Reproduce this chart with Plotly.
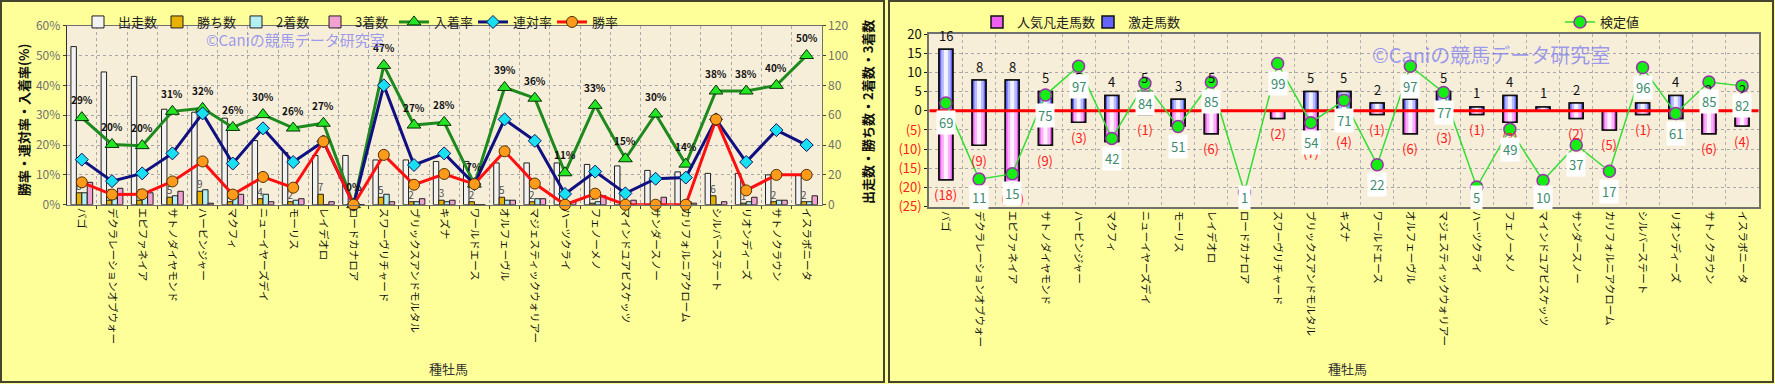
import plotly.graph_objects as go

# ---------------- data ----------------
cats = ["バゴ", "デクラレーションオブウォー", "エピファネイア", "サトノダイヤモンド", "ハービンジャー",
        "マクフィ", "ニューイヤーズデイ", "モーリス", "レイデオロ", "ロードカナロア",
        "スワーヴリチャード", "ブリックスアンドモルタル", "キズナ", "ワールドエース", "オルフェーヴル",
        "マジェスティックウォリアー", "ハーツクライ", "フェノーメノ", "マインドユアビスケッツ", "サンダースノー",
        "カリフォルニアクローム", "シルバーステート", "リオンディーズ", "サトノクラウン", "イスラボニータ"]

starts = [106, 89, 86, 64, 62, 58, 43, 35, 33, 33, 30, 30, 29, 29, 28, 28, 28, 27, 26, 23, 22, 21, 21, 20, 20]
wins = [8, 3, 3, 5, 9, 2, 4, 2, 7, 0, 5, 2, 3, 2, 5, 2, 0, 1, 0, 0, 0, 6, 1, 2, 2]
seconds = [8, 4, 6, 6, 10, 6, 7, 3, 0, 0, 7, 2, 2, 0, 3, 4, 1, 2, 1, 2, 2, 0, 2, 3, 2]
thirds = [15, 11, 8, 9, 1, 7, 2, 4, 2, 0, 2, 4, 3, 0, 3, 4, 2, 6, 3, 5, 1, 2, 5, 3, 6]

place_rate = [29.2, 20.2, 19.8, 31.3, 32.3, 25.9, 30.2, 25.7, 27.3, 0, 46.7, 26.7, 27.6, 6.9, 39.3,
              35.7, 10.7, 33.3, 15.4, 30.4, 13.6, 38.1, 38.1, 40.0, 50.0]
quinella_rate = [15.1, 7.9, 10.5, 17.2, 30.6, 13.8, 25.6, 14.3, 21.2, 0, 40.0, 13.3, 17.2, 6.9, 28.6,
                 21.4, 3.6, 11.1, 3.8, 8.7, 9.1, 28.6, 14.3, 25.0, 20.0]
win_rate = [7.5, 3.4, 3.5, 7.8, 14.5, 3.4, 9.3, 5.7, 21.2, 0, 16.7, 6.7, 10.3, 6.9, 17.9,
            7.1, 0, 3.7, 0, 0, 0, 28.6, 4.8, 10.0, 10.0]

gekiso = [16, 8, 8, 5, 5, 4, 5, 3, 5, 0, 0, 5, 5, 2, 3, 5, 1, 4, 1, 2, 0, 2, 4, 2, 2]      # 激走馬数
bonso = [18, 9, 19, 9, 3, 8, 1, 4, 6, 0, 2, 7, 4, 1, 6, 3, 1, 3, 0, 2, 5, 1, 2, 6, 4]      # 人気凡走馬数
kentei = [69, 11, 15, 75, 97, 42, 84, 51, 85, 1, 99, 54, 71, 22, 97, 77, 5, 49, 10, 37, 17, 96, 61, 85, 82]

right_ticks = [20, 15, 10, 5, 0, -5, -10, -15, -20, -25]

# ---------------- layout helpers ----------------
W, H = 1775, 384
FONT = "Noto Sans CJK JP"


def fx(px):
    return px / W


def fy(py):
    return 1 - py / H


idx = list(range(len(cats)))
bounds = [i + 0.5 for i in idx[:-1]]
xr = [idx[0] - 0.5, idx[-1] + 0.5]

fig = go.Figure()

# ---------------- left chart: bars (count axis y, right side) ----------------
bar_specs = [("出走数", starts, "#F3F3F3"), ("勝ち数", wins, "#E8B000"),
             ("2着数", seconds, "#B2F0F4"), ("3着数", thirds, "#F2A2D2")]
for name, vals, col in bar_specs:
    kw = {}
    if name == "勝ち数":
        kw = dict(text=[str(v) if v else "" for v in vals], textposition="outside",
                  constraintext="none", cliponaxis=False,
                  textfont=dict(size=10, color="#505050", family=FONT))
    fig.add_trace(go.Bar(x=idx, y=vals, name=name, xaxis="x", yaxis="y", legend="legend",
                         marker=dict(color=col, line=dict(color="#202020", width=1)), **kw))

# ---------------- left chart: lines (percent axis y2) ----------------
fig.add_trace(go.Scatter(x=idx, y=place_rate, name="入着率", mode="lines+markers", xaxis="x", yaxis="y2",
                         legend="legend", cliponaxis=False,
                         line=dict(color="#1E8A1E", width=3),
                         marker=dict(symbol="triangle-up", size=12, color="#22E622",
                                     line=dict(color="#0A300A", width=1))))
fig.add_trace(go.Scatter(x=idx, y=quinella_rate, name="連対率", mode="lines+markers", xaxis="x", yaxis="y2",
                         legend="legend", cliponaxis=False,
                         line=dict(color="#101080", width=3),
                         marker=dict(symbol="diamond", size=10, color="#19E0F0",
                                     line=dict(color="#101060", width=1))))
fig.add_trace(go.Scatter(x=idx, y=win_rate, name="勝率", mode="lines+markers", xaxis="x", yaxis="y2",
                         legend="legend", cliponaxis=False,
                         line=dict(color="#FF1010", width=3),
                         marker=dict(symbol="circle", size=11, color="#FF9A1A",
                                     line=dict(color="#503000", width=1))))

# ---------------- right chart: bars (y3) with simple horizontal gradient ----------------
neg = [-v for v in bonso]
layers = [(0.42, 1.0), (0.28, 0.0), (0.12, 0.0)]
pink_cols = ["#F060F0", "#FBB2FB", "#FFF2FF"]
blue_cols = ["#6464FF", "#B8BCFF", "#F2F3FF"]
for vals, cols, name in [(neg, pink_cols, "人気凡走馬数"), (gekiso, blue_cols, "激走馬数")]:
    for k, (wdt, lw) in enumerate(layers):
        fig.add_trace(go.Bar(x=idx, y=vals, width=wdt, offset=-wdt / 2, xaxis="x2", yaxis="y3",
                             name=name, legend="legend2", showlegend=(k == 0),
                             marker=dict(color=cols[k], line=dict(color="#101010", width=lw * 1.5))))
    fig.add_trace(go.Bar(x=idx, y=vals, width=0.42, offset=-0.21, xaxis="x2", yaxis="y3",
                         showlegend=False, hoverinfo="skip",
                         marker=dict(color="rgba(0,0,0,0)", line=dict(color="#101010", width=1.5))))

fig.add_trace(go.Scatter(x=xr, y=[0, 0], mode="lines", xaxis="x2", yaxis="y3", showlegend=False,
                         line=dict(color="#FF0000", width=3), hoverinfo="skip"))

fig.add_trace(go.Scatter(x=idx, y=kentei, name="検定値", mode="lines+markers", xaxis="x2", yaxis="y4",
                         legend="legend3", cliponaxis=False,
                         line=dict(color="#33DD33", width=1.5),
                         marker=dict(symbol="circle", size=12, color="#14EE14",
                                     line=dict(color="#9933AA", width=1.5))))

# ---------------- annotations ----------------
ann = []
C = dict(xanchor="center", yanchor="middle", showarrow=False)
# 入着率 labels
for i, v in zip(idx, place_rate):
    ann.append(dict(x=i, y=v, xref="x", yref="y2", text=f"<b>{round(v)}%</b>",
                    yshift=18, font=dict(size=10, color="#111111", family=FONT), **C))
# right chart count labels
for i, v in zip(idx, gekiso):
    if v:
        ann.append(dict(x=i, y=v, xref="x2", yref="y3", text=str(v), yshift=14,
                        font=dict(size=13, color="#111111", family=FONT), **C))
for i, v in zip(idx, bonso):
    if v:
        ann.append(dict(x=i, y=-v, xref="x2", yref="y3", text=f"({v})", yshift=-15,
                        font=dict(size=13, color="#FF2020", family=FONT), **C))
# 検定値 labels (white boxes), kept inside plot bottom
y4_range = [-10, 121.5]
px_per_unit = (206.7 - 34) / (y4_range[1] - y4_range[0])
for i, v in zip(idx, kentei):
    ly = max(v - 20 / px_per_unit, -3.0)
    ann.append(dict(x=i, y=ly, xref="x2", yref="y4", text=str(v),
                    bgcolor="#FFFFFF", borderpad=2,
                    font=dict(size=13, color="#3C8C6C", family=FONT), **C))
# watermarks
ann.append(dict(x=fx(295), y=fy(39), xref="paper", yref="paper", text="©Caniの競馬データ研究室",
                font=dict(size=15, color="rgba(125,125,240,0.75)", family=FONT), **C))
ann.append(dict(x=fx(1491), y=fy(55), xref="paper", yref="paper", text="©Caniの競馬データ研究室",
                font=dict(size=20, color="rgba(125,125,240,0.75)", family=FONT), **C))
# axis titles
ann.append(dict(x=fx(448), y=fy(368), xref="paper", yref="paper", text="種牡馬",
                font=dict(size=13, color="#333333", family=FONT), **C))
ann.append(dict(x=fx(1347), y=fy(368), xref="paper", yref="paper", text="種牡馬",
                font=dict(size=13, color="#333333", family=FONT), **C))
ann.append(dict(x=fx(23), y=fy(120), xref="paper", yref="paper", text="<b>勝率・連対率・入着率(%)</b>",
                textangle=-90, font=dict(size=13, color="#111111", family=FONT), **C))
ann.append(dict(x=fx(867), y=fy(112), xref="paper", yref="paper", text="<b>出走数・勝ち数・2着数・3着数</b>",
                textangle=-90, font=dict(size=13, color="#111111", family=FONT), **C))

# ---------------- shapes: panel borders ----------------
shapes = [
    dict(type="rect", xref="paper", yref="paper", x0=fx(1), x1=fx(884), y0=fy(382), y1=fy(1),
         line=dict(color="#45452E", width=2), layer="above"),
    dict(type="rect", xref="paper", yref="paper", x0=fx(889), x1=fx(1773), y0=fy(382), y1=fy(1),
         line=dict(color="#45452E", width=2), layer="above"),
]

grid = dict(showgrid=True, gridcolor="#A8A8A8", griddash="dot", gridwidth=1)
tickfont_x = dict(size=10.5, color="#111111", family=FONT)

LX = [fx(66.7), fx(821.7)]
LY = [fy(204.7), fy(25.7)]
RX = [fx(929.3), fx(1758.7)]
RY = [fy(206.7), fy(34)]

right_ticktext = [str(t) if t >= 0 else f"<span style='color:#FF2020'>({-t})</span>" for t in right_ticks]

fig.update_layout(
    width=W, height=H,
    margin=dict(l=0, r=0, t=0, b=0, autoexpand=False),
    paper_bgcolor="#FFFF99",
    plot_bgcolor="#F7EEDA",
    barmode="group", bargap=0.28, bargroupgap=0,
    font=dict(family=FONT, color="#111111"),
    showlegend=True,
    xaxis=dict(domain=LX, anchor="y", range=xr, tickmode="array", tickvals=idx, ticktext=cats,
               tickangle=90, tickfont=tickfont_x, showgrid=False, ticks="",
               showline=True, linecolor="#707070", linewidth=1, mirror=True,
               minor=dict(tickvals=bounds, ticks="outside", ticklen=3, tickcolor="#404040",
                          showgrid=True, gridcolor="#A8A8A8", griddash="dot")),
    yaxis=dict(domain=LY, anchor="x", side="right", range=[0, 120], dtick=20, tickfont=dict(size=12, color="#707070"),
               ticks="outside", ticklen=3, tickcolor="#404040", showline=True, linecolor="#707070",
               zeroline=False, **grid),
    yaxis2=dict(overlaying="y", anchor="x", side="left", range=[0, 60], dtick=10, ticksuffix="%",
                tickfont=dict(size=12, color="#707070"), ticks="outside", ticklen=3, tickcolor="#404040",
                showgrid=False, showline=True, linecolor="#303030", zeroline=False),
    xaxis2=dict(domain=RX, anchor="y3", range=xr, tickmode="array", tickvals=idx, ticktext=cats,
                tickangle=90, tickfont=tickfont_x, showgrid=False, ticks="",
                showline=True, linecolor="#707070", linewidth=2, mirror=True,
                minor=dict(tickvals=bounds, ticks="", showgrid=True, gridcolor="#B0B0B0", griddash="dot")),
    yaxis3=dict(domain=RY, anchor="x2", range=[-25, 20], tickmode="array", tickvals=right_ticks,
                ticktext=right_ticktext, tickfont=dict(size=13, color="#111111"),
                ticks="outside", ticklen=3, tickcolor="#202020", showline=True, linecolor="#707070",
                linewidth=2, mirror=True, zeroline=False, **grid),
    yaxis4=dict(overlaying="y3", anchor="x2", range=y4_range, visible=False),
    legend=dict(orientation="h", x=fx(78), y=fy(7), xanchor="left", yanchor="top",
                bgcolor="rgba(0,0,0,0)", font=dict(size=13, color="#222222"),
                itemwidth=30, entrywidth=34, entrywidthmode="pixels", tracegroupgap=0),
    legend2=dict(orientation="h", x=fx(977), y=fy(7), xanchor="left", yanchor="top",
                 bgcolor="rgba(0,0,0,0)", font=dict(size=13, color="#222222"),
                 itemwidth=30, entrywidth=66, entrywidthmode="pixels"),
    legend3=dict(orientation="h", x=fx(1560), y=fy(7), xanchor="left", yanchor="top",
                 bgcolor="rgba(0,0,0,0)", font=dict(size=13, color="#222222"), itemwidth=30),
    annotations=ann,
    shapes=shapes,
)

fig.write_html("out.html", config={"displayModeBar": False},
               post_script="document.body.style.margin='0';document.body.style.overflow='hidden';")
